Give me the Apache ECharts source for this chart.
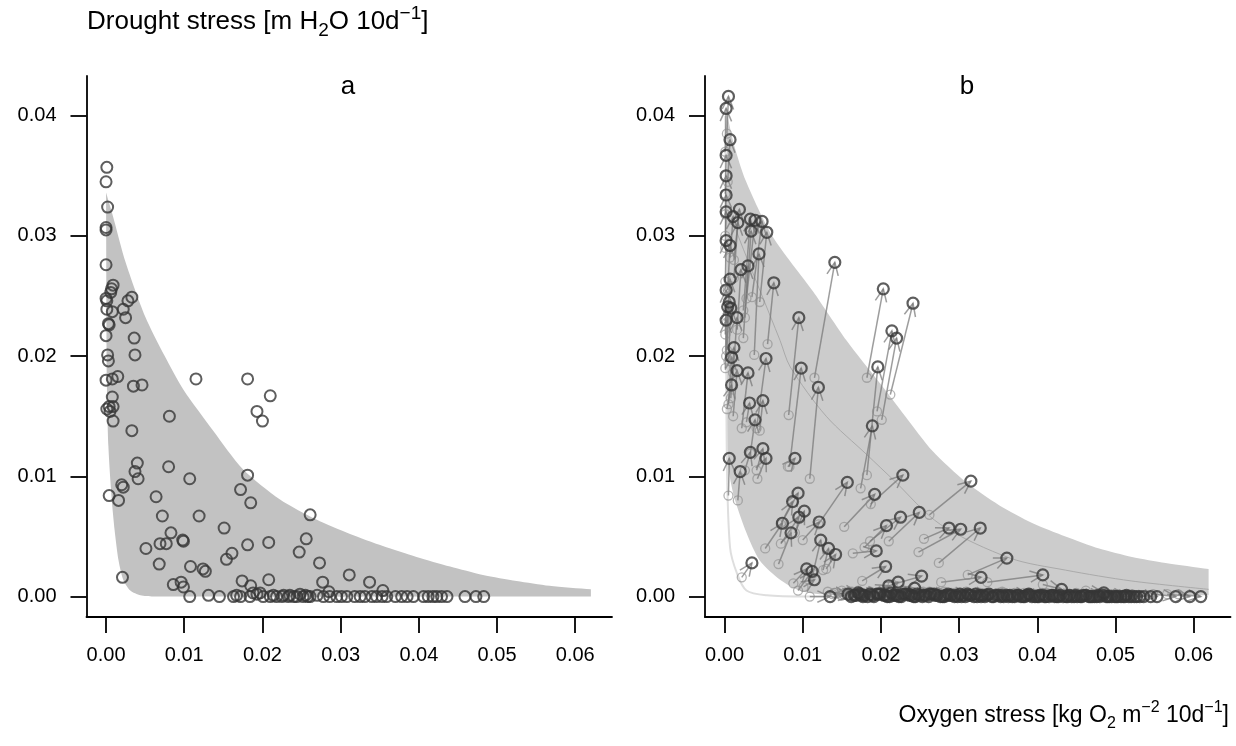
<!DOCTYPE html>
<html>
<head>
<meta charset="utf-8">
<script src="https://cdn.jsdelivr.net/npm/echarts@6/dist/echarts.min.js"></script>
<style>
html, body { margin: 0; padding: 0; background: #fff; }
#chart { width: 1236px; height: 746px; }
</style>
</head>
<body>
<div id="chart"></div>
<script>
const FONT = '"Liberation Sans", Arial, Helvetica, sans-serif';

// tick values
const xTicks = [0, 0.01, 0.02, 0.03, 0.04, 0.05, 0.06];
const yTicks = [0, 0.01, 0.02, 0.03, 0.04];

// panel a: points
const aX = [0.0001, 0.0000, 0.0002, 0.0000, 0.0000, 0.0000, 0.0009, 0.0007, 0.0006, 0.0000,
  0.0001, 0.0033, 0.0028, 0.0001, 0.0008, 0.0022, 0.0025, 0.0003, 0.0004, 0.0000,
  0.0036, 0.0002, 0.0003, 0.0037, 0.0000, 0.0008, 0.0015, 0.0035, 0.0046, 0.0115,
  0.0181, 0.0210, 0.0008, 0.0004, 0.0001, 0.0009, 0.0005, 0.0009, 0.0033, 0.0081,
  0.0193, 0.0200, 0.0040, 0.0037, 0.0041, 0.0080, 0.0107, 0.0020, 0.0022, 0.0004,
  0.0016, 0.0064, 0.0181, 0.0172, 0.0185, 0.0072, 0.0119, 0.0261, 0.0151, 0.0083,
  0.0069, 0.0077, 0.0098, 0.0099, 0.0051, 0.0181, 0.0208, 0.0161, 0.0154, 0.0256,
  0.0247, 0.0068, 0.0108, 0.0124, 0.0127, 0.0273, 0.0021, 0.0174, 0.0185, 0.0208,
  0.0086, 0.0096, 0.0099, 0.0277, 0.0311, 0.0337, 0.0285, 0.0354,
  0.0107, 0.0131, 0.0145, 0.0163, 0.0167, 0.0172, 0.0184, 0.0188, 0.0193, 0.0197,
  0.0201, 0.0210, 0.0214, 0.0218, 0.0225, 0.0227, 0.0233, 0.0235, 0.0240, 0.0244,
  0.0248, 0.0252, 0.0255, 0.0258, 0.0261, 0.0270, 0.0278, 0.0286, 0.0295, 0.0301,
  0.0308, 0.0318, 0.0325, 0.0331, 0.0340, 0.0346, 0.0353, 0.0359, 0.0370, 0.0378,
  0.0385, 0.0393, 0.0406, 0.0412, 0.0418, 0.0423, 0.0429, 0.0436, 0.0459, 0.0473, 0.0483];
const aY = [0.0357, 0.0345, 0.0324, 0.0307, 0.0305, 0.0276, 0.0259, 0.0256, 0.0253, 0.0248,
  0.0246, 0.0249, 0.0246, 0.0239, 0.0237, 0.0239, 0.0232, 0.0227, 0.0226, 0.0217,
  0.0215, 0.0201, 0.0196, 0.0201, 0.0180, 0.0181, 0.0183, 0.0175, 0.0176, 0.0181,
  0.0181, 0.0167, 0.0166, 0.0158, 0.0156, 0.0158, 0.0154, 0.0146, 0.0138, 0.0150,
  0.0154, 0.0146, 0.0111, 0.0104, 0.0098, 0.0108, 0.0098, 0.0093, 0.0091, 0.0084,
  0.0080, 0.0083, 0.0101, 0.0089, 0.0078, 0.0067, 0.0067, 0.0068, 0.0057, 0.0053,
  0.0044, 0.0044, 0.0047, 0.0046, 0.0040, 0.0043, 0.0045, 0.0036, 0.0031, 0.0048,
  0.0037, 0.0027, 0.0025, 0.0023, 0.0021, 0.0028, 0.0016, 0.0013, 0.0009, 0.0014,
  0.0010, 0.0012, 0.0008, 0.0012, 0.0018, 0.0012, 0.0004, 0.0005,
  0.0000, 0.0001, 0.0000, 0.0000, 0.0001, 0.0000, 0.0000, 0.0003, 0.0002, 0.0003,
  0.0000, 0.0000, 0.0001, 0.0000, 0.0000, 0.0001, 0.0000, 0.0001, 0.0000, 0.0000,
  0.0002, 0.0000, 0.0001, 0.0000, 0.0000, 0.0001, 0.0000, 0.0000, 0.0000, 0.0000,
  0.0000, 0.0000, 0.0000, 0.0000, 0.0000, 0.0000, 0.0000, 0.0000, 0.0000, 0.0000,
  0.0000, 0.0000, 0.0000, 0.0000, 0.0000, 0.0000, 0.0000, 0.0000, 0.0000, 0.0000, 0.0000];

// panel a: shaded envelope
const envAUpX = [0, 0.0009, 0.0025, 0.0050, 0.0075, 0.0099, 0.0137, 0.0175, 0.0222, 0.0269, 0.0312, 0.0354, 0.0397, 0.0440, 0.0482, 0.0525, 0.0567, 0.0620];
const envAUpY = [0.0336, 0.0316, 0.0278, 0.0233, 0.0200, 0.0172, 0.0138, 0.0106, 0.0081, 0.0064, 0.0052, 0.0042, 0.0033, 0.0025, 0.0018, 0.0013, 0.0009, 0.0006];
const envALoX = [0.0620, 0.0060, 0.0044, 0.0031, 0.0022, 0.0016, 0.0011, 0.0007, 0.0003, 0.0001, 0];
const envALoY = [0.0000, 0.0000, 0.0001, 0.0005, 0.0014, 0.0030, 0.0055, 0.0083, 0.0125, 0.0180, 0.0336];

// panel b: shaded envelope
const envBUpX = [0.0003, 0.0012, 0.0027, 0.0061, 0.0113, 0.0156, 0.0198, 0.0231, 0.0266, 0.0309, 0.0351, 0.0394, 0.0436, 0.0479, 0.0521, 0.0564, 0.0619];
const envBUpY = [0.0402, 0.0376, 0.0346, 0.0300, 0.0254, 0.0213, 0.0178, 0.0150, 0.0121, 0.0095, 0.0076, 0.0061, 0.0050, 0.0040, 0.0033, 0.0028, 0.0023];
const envBLoX = [0.0619, 0.0122, 0.0096, 0.0071, 0.0045, 0.0028, 0.0011, 0.0004, 0.0003];
const envBLoY = [0.0001, 0.0002, 0.0005, 0.0014, 0.0030, 0.0053, 0.0086, 0.0115, 0.0402];

// panel b: faint reference curves
const curveLightX = [0.0001, 0.0002, 0.0003, 0.0007, 0.0016, 0.0028, 0.0054, 0.0105, 0.0140];
const curveLightY = [0.0400, 0.0250, 0.0113, 0.0041, 0.0019, 0.0005, 0.0001, 0.0000, 0.0000];
const curveMidX = [0.0011, 0.0018, 0.0071, 0.0084, 0.0130, 0.0182, 0.0216, 0.0276, 0.0365, 0.0436, 0.0520, 0.0619];
const curveMidY = [0.0313, 0.0299, 0.0213, 0.0191, 0.0150, 0.0118, 0.0097, 0.0060, 0.0032, 0.0022, 0.0013, 0.0006];

// panel b: arrows, start (light) -> end (dark)
const bX0 = [0.0003, 0.0001, 0.0004, 0.0001, 0.0001, 0.0001, 0.0001, 0.0012, 0.0007, 0.0012,
  0.0024, 0.0028, 0.0035, 0.0026, 0.0045, 0.0001, 0.0004, 0.0038, 0.0016, 0.0024,
  0.0115, 0.0003, 0.0055, 0.0001, 0.0003, 0.0002, 0.0005, 0.0001, 0.0011, 0.0082,
  0.0008, 0.0005, 0.0041, 0.0011, 0.0022, 0.0083, 0.0182, 0.0182, 0.0212, 0.0195,
  0.0201, 0.0109, 0.0174, 0.0003, 0.0028, 0.0045, 0.0033, 0.0005, 0.0017, 0.0026,
  0.0041, 0.0042, 0.0081, 0.0120, 0.0153, 0.0187, 0.0072, 0.0073, 0.0090, 0.0072,
  0.0052, 0.0069, 0.0100, 0.0113, 0.0126, 0.0130, 0.0022, 0.0088, 0.0094, 0.0101,
  0.0109, 0.0179, 0.0186, 0.0210, 0.0164, 0.0176, 0.0215, 0.0190, 0.0180, 0.0212,
  0.0150, 0.0262, 0.0255, 0.0248, 0.0274, 0.0311, 0.0277, 0.0336, 0.0407, 0.0462];
const bY0 = [0.0385, 0.0370, 0.0345, 0.0335, 0.0318, 0.0300, 0.0290, 0.0280, 0.0282, 0.0265,
  0.0238, 0.0248, 0.0249, 0.0232, 0.0245, 0.0262, 0.0255, 0.0201, 0.0222, 0.0215,
  0.0182, 0.0228, 0.0210, 0.0218, 0.0205, 0.0200, 0.0196, 0.0190, 0.0186, 0.0151,
  0.0165, 0.0160, 0.0140, 0.0150, 0.0140, 0.0108, 0.0101, 0.0182, 0.0168, 0.0154,
  0.0147, 0.0098, 0.0090, 0.0156, 0.0145, 0.0138, 0.0119, 0.0084, 0.0080, 0.0105,
  0.0105, 0.0098, 0.0108, 0.0060, 0.0058, 0.0077, 0.0060, 0.0062, 0.0053, 0.0044,
  0.0040, 0.0027, 0.0047, 0.0019, 0.0022, 0.0023, 0.0016, 0.0011, 0.0005, 0.0008,
  0.0000, 0.0041, 0.0046, 0.0046, 0.0036, 0.0013, 0.0010, 0.0003, 0.0002, 0.0002,
  0.0001, 0.0068, 0.0048, 0.0037, 0.0028, 0.0018, 0.0012, 0.0012, 0.0010, 0.0005];
const bX1 = [0.0005, 0.0002, 0.0007, 0.0002, 0.0002, 0.0002, 0.0002, 0.0019, 0.0011, 0.0017,
  0.0033, 0.0039, 0.0048, 0.0034, 0.0054, 0.0002, 0.0007, 0.0044, 0.0021, 0.0030,
  0.0141, 0.0007, 0.0063, 0.0002, 0.0006, 0.0004, 0.0008, 0.0002, 0.0016, 0.0095,
  0.0012, 0.0009, 0.0053, 0.0016, 0.0030, 0.0098, 0.0196, 0.0203, 0.0241, 0.0214,
  0.0220, 0.0120, 0.0189, 0.0009, 0.0032, 0.0049, 0.0039, 0.0006, 0.0020, 0.0033,
  0.0049, 0.0053, 0.0090, 0.0157, 0.0192, 0.0228, 0.0094, 0.0087, 0.0102, 0.0095,
  0.0074, 0.0085, 0.0121, 0.0123, 0.0133, 0.0142, 0.0035, 0.0105, 0.0112, 0.0115,
  0.0135, 0.0207, 0.0225, 0.0249, 0.0194, 0.0206, 0.0252, 0.0222, 0.0210, 0.0243,
  0.0173, 0.0315, 0.0287, 0.0302, 0.0327, 0.0361, 0.0328, 0.0407, 0.0431, 0.0485];
const bY1 = [0.0416, 0.0406, 0.0380, 0.0367, 0.0350, 0.0334, 0.0320, 0.0322, 0.0316, 0.0311,
  0.0314, 0.0313, 0.0312, 0.0304, 0.0303, 0.0296, 0.0292, 0.0285, 0.0272, 0.0275,
  0.0278, 0.0264, 0.0261, 0.0255, 0.0245, 0.0241, 0.0240, 0.0230, 0.0232, 0.0232,
  0.0207, 0.0199, 0.0198, 0.0188, 0.0186, 0.0190, 0.0191, 0.0256, 0.0244, 0.0221,
  0.0215, 0.0174, 0.0142, 0.0176, 0.0161, 0.0163, 0.0147, 0.0115, 0.0104, 0.0120,
  0.0123, 0.0115, 0.0115, 0.0095, 0.0085, 0.0101, 0.0086, 0.0079, 0.0071, 0.0066,
  0.0061, 0.0053, 0.0062, 0.0047, 0.0040, 0.0035, 0.0028, 0.0023, 0.0021, 0.0014,
  0.0000, 0.0059, 0.0066, 0.0070, 0.0038, 0.0025, 0.0017, 0.0012, 0.0009, 0.0007,
  0.0002, 0.0096, 0.0057, 0.0056, 0.0057, 0.0032, 0.0016, 0.0018, 0.0006, 0.0003];

// panel b: arrows along the floor
const floorX0 = [0.0132, 0.0141, 0.0150, 0.0152, 0.0160, 0.0168, 0.0171, 0.0180, 0.0186, 0.0193,
  0.0198, 0.0205, 0.0210, 0.0219, 0.0222, 0.0230, 0.0236, 0.0241, 0.0250, 0.0254,
  0.0262, 0.0268, 0.0275, 0.0281, 0.0290, 0.0294, 0.0301, 0.0309, 0.0316, 0.0321,
  0.0330, 0.0335, 0.0343, 0.0350, 0.0355, 0.0364, 0.0371, 0.0377, 0.0385, 0.0390,
  0.0398, 0.0406, 0.0414, 0.0420, 0.0427, 0.0436, 0.0441, 0.0450, 0.0458, 0.0463,
  0.0472, 0.0480, 0.0488, 0.0494, 0.0503, 0.0521, 0.0548, 0.0566, 0.0580,
  0.0138, 0.0149, 0.0158, 0.0171, 0.0182, 0.0190, 0.0197, 0.0211, 0.0216, 0.0224,
  0.0235, 0.0243, 0.0251, 0.0259, 0.0268, 0.0277, 0.0282, 0.0290, 0.0299, 0.0304,
  0.0316, 0.0325, 0.0330, 0.0339, 0.0346, 0.0353, 0.0361, 0.0368, 0.0374, 0.0382,
  0.0390, 0.0396, 0.0404, 0.0411, 0.0419, 0.0425, 0.0433, 0.0441, 0.0447, 0.0455,
  0.0462, 0.0470, 0.0477, 0.0485, 0.0491, 0.0498, 0.0506, 0.0519,
  0.0140, 0.0152, 0.0163, 0.0169, 0.0181, 0.0186, 0.0193, 0.0202, 0.0209, 0.0217,
  0.0228, 0.0236, 0.0243, 0.0253, 0.0262, 0.0270, 0.0275, 0.0286, 0.0294, 0.0301,
  0.0309, 0.0318, 0.0327, 0.0337, 0.0349, 0.0356, 0.0364, 0.0375, 0.0383, 0.0393,
  0.0401, 0.0412, 0.0422, 0.0431, 0.0441, 0.0451, 0.0463, 0.0474, 0.0486];
const floorY0 = [0.0004, 0.0003, 0.0005, 0.0002, 0.0004, 0.0003, 0.0005, 0.0002, 0.0004, 0.0003,
  0.0002, 0.0005, 0.0003, 0.0004, 0.0002, 0.0003, 0.0005, 0.0002, 0.0003, 0.0004,
  0.0002, 0.0003, 0.0002, 0.0004, 0.0003, 0.0002, 0.0003, 0.0004, 0.0002, 0.0003,
  0.0002, 0.0003, 0.0002, 0.0003, 0.0004, 0.0002, 0.0003, 0.0002, 0.0002, 0.0003,
  0.0002, 0.0003, 0.0002, 0.0002, 0.0003, 0.0002, 0.0002, 0.0003, 0.0002, 0.0002,
  0.0002, 0.0003, 0.0002, 0.0002, 0.0002, 0.0002, 0.0002, 0.0002, 0.0002,
  0.0002, 0.0001, 0.0003, 0.0001, 0.0002, 0.0001, 0.0003, 0.0001, 0.0002, 0.0001,
  0.0002, 0.0001, 0.0003, 0.0001, 0.0002, 0.0001, 0.0002, 0.0001, 0.0002, 0.0001,
  0.0002, 0.0001, 0.0002, 0.0001, 0.0001, 0.0002, 0.0001, 0.0001, 0.0002, 0.0001,
  0.0001, 0.0002, 0.0001, 0.0001, 0.0001, 0.0002, 0.0001, 0.0001, 0.0001, 0.0001,
  0.0001, 0.0001, 0.0001, 0.0001, 0.0001, 0.0001, 0.0001, 0.0001,
  0.0003, 0.0002, 0.0004, 0.0003, 0.0002, 0.0004, 0.0003, 0.0002, 0.0003, 0.0004,
  0.0002, 0.0003, 0.0002, 0.0003, 0.0004, 0.0002, 0.0003, 0.0002, 0.0003, 0.0002,
  0.0003, 0.0002, 0.0003, 0.0002, 0.0002, 0.0003, 0.0002, 0.0002, 0.0003, 0.0002,
  0.0002, 0.0003, 0.0002, 0.0002, 0.0002, 0.0002, 0.0002, 0.0002, 0.0002];
const floorX1 = [0.0158, 0.0166, 0.0171, 0.0179, 0.0186, 0.0191, 0.0199, 0.0204, 0.0213, 0.0219,
  0.0226, 0.0231, 0.0239, 0.0246, 0.0253, 0.0257, 0.0264, 0.0272, 0.0279, 0.0286,
  0.0290, 0.0298, 0.0305, 0.0311, 0.0319, 0.0326, 0.0333, 0.0338, 0.0347, 0.0353,
  0.0361, 0.0368, 0.0374, 0.0382, 0.0389, 0.0397, 0.0403, 0.0411, 0.0418, 0.0425,
  0.0433, 0.0441, 0.0447, 0.0455, 0.0462, 0.0470, 0.0476, 0.0484, 0.0492, 0.0499,
  0.0507, 0.0514, 0.0520, 0.0527, 0.0536, 0.0553, 0.0577, 0.0595, 0.0609,
  0.0162, 0.0175, 0.0183, 0.0195, 0.0208, 0.0216, 0.0223, 0.0235, 0.0242, 0.0249,
  0.0261, 0.0268, 0.0276, 0.0283, 0.0294, 0.0301, 0.0308, 0.0315, 0.0323, 0.0330,
  0.0342, 0.0350, 0.0357, 0.0365, 0.0371, 0.0379, 0.0386, 0.0393, 0.0400, 0.0407,
  0.0415, 0.0422, 0.0429, 0.0437, 0.0444, 0.0451, 0.0459, 0.0466, 0.0473, 0.0480,
  0.0488, 0.0495, 0.0503, 0.0510, 0.0517, 0.0524, 0.0531, 0.0545,
  0.0168, 0.0177, 0.0189, 0.0197, 0.0206, 0.0211, 0.0221, 0.0228, 0.0237, 0.0244,
  0.0255, 0.0262, 0.0270, 0.0281, 0.0288, 0.0296, 0.0303, 0.0313, 0.0321, 0.0328,
  0.0336, 0.0344, 0.0355, 0.0363, 0.0376, 0.0384, 0.0391, 0.0402, 0.0409, 0.0420,
  0.0427, 0.0439, 0.0449, 0.0457, 0.0468, 0.0478, 0.0490, 0.0501, 0.0512];
const floorY1 = [0.0002, 0.0001, 0.0003, 0.0001, 0.0002, 0.0000, 0.0002, 0.0001, 0.0003, 0.0001,
  0.0000, 0.0002, 0.0001, 0.0002, 0.0000, 0.0001, 0.0002, 0.0001, 0.0000, 0.0002,
  0.0001, 0.0000, 0.0001, 0.0002, 0.0000, 0.0001, 0.0000, 0.0002, 0.0001, 0.0000,
  0.0001, 0.0000, 0.0001, 0.0000, 0.0002, 0.0000, 0.0001, 0.0000, 0.0001, 0.0000,
  0.0000, 0.0001, 0.0000, 0.0000, 0.0001, 0.0000, 0.0000, 0.0001, 0.0000, 0.0000,
  0.0000, 0.0001, 0.0000, 0.0000, 0.0000, 0.0000, 0.0000, 0.0000, 0.0000,
  0.0000, 0.0001, 0.0000, 0.0002, 0.0000, 0.0001, 0.0000, 0.0002, 0.0000, 0.0001,
  0.0000, 0.0002, 0.0000, 0.0001, 0.0000, 0.0002, 0.0000, 0.0001, 0.0000, 0.0001,
  0.0000, 0.0001, 0.0000, 0.0001, 0.0000, 0.0000, 0.0001, 0.0000, 0.0000, 0.0001,
  0.0000, 0.0000, 0.0001, 0.0000, 0.0000, 0.0000, 0.0001, 0.0000, 0.0000, 0.0000,
  0.0000, 0.0000, 0.0000, 0.0000, 0.0000, 0.0000, 0.0000, 0.0000,
  0.0001, 0.0000, 0.0001, 0.0002, 0.0001, 0.0000, 0.0001, 0.0002, 0.0001, 0.0000,
  0.0001, 0.0002, 0.0001, 0.0000, 0.0001, 0.0001, 0.0000, 0.0001, 0.0002, 0.0000,
  0.0001, 0.0000, 0.0001, 0.0000, 0.0001, 0.0000, 0.0001, 0.0000, 0.0000, 0.0001,
  0.0000, 0.0000, 0.0001, 0.0000, 0.0000, 0.0001, 0.0000, 0.0000, 0.0000];

const DARK = '#363636';
const ARROW = 'rgba(115,115,115,0.7)';
const START = 'rgba(140,140,140,0.8)';

const pairs = (xs, ys) => xs.map((x, i) => [x, ys[i]]);
const quads = (x0, y0, x1, y1) => x0.map((x, i) => [x, y0[i], x1[i], y1[i]]);

const arrowData = quads(bX0, bY0, bX1, bY1).concat(quads(floorX0, floorY0, floorX1, floorY1));
const startData = pairs(bX0, bY0).concat(pairs(floorX0, floorY0));
const endData = pairs(bX1, bY1).concat(pairs(floorX1, floorY1));

// smoothed band; corner points are doubled so they stay sharp
function envelope(upX, upY, loX, loY, color) {
  return function (params, api) {
    const up = upX.map((x, i) => api.coord([x, upY[i]]));
    const lo = loX.map((x, i) => api.coord([x, loY[i]]));
    const pts = [up[0]].concat(up, [up[up.length - 1], lo[0]], lo);
    return { type: 'polygon', shape: { points: pts, smooth: 0.25 }, style: { fill: color } };
  };
}

function arrow(params, api) {
  const p0 = api.coord([api.value(0), api.value(1)]);
  const p1 = api.coord([api.value(2), api.value(3)]);
  const ang = Math.atan2(p1[1] - p0[1], p1[0] - p0[0]);
  const len = 14, spread = 0.42;
  const h1 = [p1[0] - len * Math.cos(ang - spread), p1[1] - len * Math.sin(ang - spread)];
  const h2 = [p1[0] - len * Math.cos(ang + spread), p1[1] - len * Math.sin(ang + spread)];
  return {
    type: 'group',
    children: [
      { type: 'line', shape: { x1: p0[0], y1: p0[1], x2: p1[0], y2: p1[1] }, style: { stroke: ARROW, lineWidth: 1.5, fill: 'none' } },
      { type: 'polyline', shape: { points: [h1, p1, h2] }, style: { stroke: ARROW, lineWidth: 1.5, fill: 'none' } }
    ]
  };
}

function xAxis(idx) {
  return {
    type: 'value', gridIndex: idx, min: -0.0025, max: 0.0647,
    axisLine: { show: true, onZero: false, lineStyle: { color: '#000', width: 1.8 } },
    axisTick: { show: true, length: 16, customValues: xTicks, lineStyle: { color: '#000', width: 1.8 } },
    axisLabel: { customValues: xTicks, formatter: v => v.toFixed(2), margin: 28, fontSize: 20, color: '#000', fontFamily: FONT },
    splitLine: { show: false }
  };
}
function yAxis(idx) {
  return {
    type: 'value', gridIndex: idx, min: -0.0017, max: 0.0433,
    axisLine: { show: true, onZero: false, lineStyle: { color: '#000', width: 1.8 } },
    axisTick: { show: true, length: 16, customValues: yTicks, lineStyle: { color: '#000', width: 1.8 } },
    axisLabel: { customValues: yTicks, formatter: v => v.toFixed(2), margin: 30, fontSize: 20, color: '#000', fontFamily: FONT },
    splitLine: { show: false }
  };
}

const chart = echarts.init(document.getElementById('chart'), null, { renderer: 'canvas' });

chart.setOption({
  animation: false,
  backgroundColor: '#fff',
  grid: [
    { left: 86.5, top: 76, width: 525.5, height: 541 },
    { left: 705, top: 76, width: 525.5, height: 541 }
  ],
  xAxis: [xAxis(0), xAxis(1)],
  yAxis: [yAxis(0), yAxis(1)],
  graphic: [
    {
      type: 'text', left: 87, top: 4,
      style: {
        text: 'Drought stress [m H{sub|2}O 10d{sup|−1}]',
        font: '26px ' + FONT, fill: '#000', lineHeight: 36,
        rich: {
          sub: { fontSize: 19, fontFamily: FONT, lineHeight: 20, verticalAlign: 'bottom' },
          sup: { fontSize: 19, fontFamily: FONT, lineHeight: 20, verticalAlign: 'top' }
        }
      }
    },
    {
      type: 'text', right: 7, top: 700,
      style: {
        text: 'Oxygen stress [kg O{sub|2} m{sup|−2} 10d{sup|−1}]',
        font: '23px ' + FONT, fill: '#000', lineHeight: 32,
        rich: {
          sub: { fontSize: 16, fontFamily: FONT, lineHeight: 18, verticalAlign: 'bottom' },
          sup: { fontSize: 16, fontFamily: FONT, lineHeight: 18, verticalAlign: 'top' }
        }
      }
    },
    { type: 'text', x: 348, y: 87, style: { text: 'a', font: '26px ' + FONT, fill: '#000', align: 'center', verticalAlign: 'middle' } },
    { type: 'text', x: 967, y: 87, style: { text: 'b', font: '26px ' + FONT, fill: '#000', align: 'center', verticalAlign: 'middle' } }
  ],
  series: [
    {
      type: 'custom', xAxisIndex: 0, yAxisIndex: 0, silent: true, z: 1,
      data: [[0, 0]],
      renderItem: envelope(envAUpX, envAUpY, envALoX, envALoY, '#c2c2c2')
    },
    {
      type: 'scatter', xAxisIndex: 0, yAxisIndex: 0, silent: true, z: 5,
      symbol: 'circle', symbolSize: 11,
      itemStyle: { color: 'rgba(0,0,0,0)', borderColor: DARK, borderWidth: 2 },
      data: pairs(aX, aY)
    },
    {
      type: 'custom', xAxisIndex: 1, yAxisIndex: 1, silent: true, z: 1,
      data: [[0, 0]],
      renderItem: envelope(envBUpX, envBUpY, envBLoX, envBLoY, '#cccccc')
    },
    {
      type: 'line', xAxisIndex: 1, yAxisIndex: 1, silent: true, z: 2, showSymbol: false, smooth: 0.3,
      lineStyle: { color: '#dedede', width: 2 },
      data: pairs(curveLightX, curveLightY)
    },
    {
      type: 'line', xAxisIndex: 1, yAxisIndex: 1, silent: true, z: 2, showSymbol: false, smooth: 0.3,
      lineStyle: { color: '#aaaaaa', width: 1 },
      data: pairs(curveMidX, curveMidY)
    },
    {
      type: 'custom', xAxisIndex: 1, yAxisIndex: 1, silent: true, z: 3,
      encode: { x: [0, 2], y: [1, 3] },
      data: arrowData,
      renderItem: arrow
    },
    {
      type: 'scatter', xAxisIndex: 1, yAxisIndex: 1, silent: true, z: 4,
      symbol: 'circle', symbolSize: 9,
      itemStyle: { color: 'rgba(0,0,0,0)', borderColor: START, borderWidth: 1.3 },
      data: startData
    },
    {
      type: 'scatter', xAxisIndex: 1, yAxisIndex: 1, silent: true, z: 5,
      symbol: 'circle', symbolSize: 11,
      itemStyle: { color: 'rgba(0,0,0,0)', borderColor: DARK, borderWidth: 2.2 },
      data: endData
    }
  ]
});
</script>
</body>
</html>
